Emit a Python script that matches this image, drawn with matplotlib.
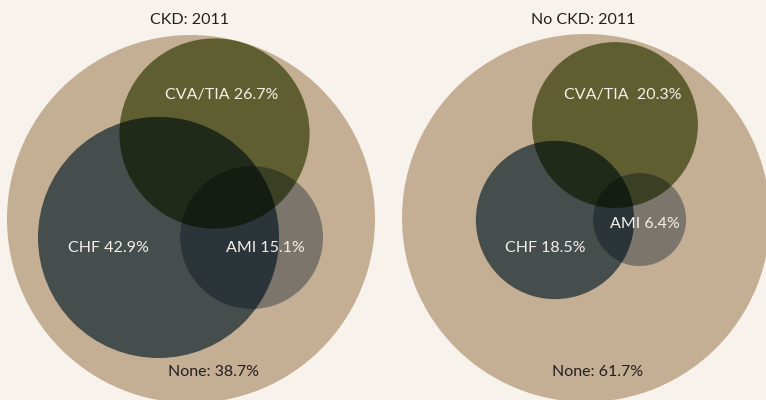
import numpy as np
import matplotlib.pyplot as plt
from matplotlib.patches import Circle, Polygon
from itertools import combinations

plt.rcParams['font.family'] = ['Lato', 'DejaVu Sans']

# data
panel_titles = ['CKD: 2011', 'No CKD: 2011']
categories = ['CVA/TIA', 'CHF', 'AMI']
ckd_pct = [26.7, 42.9, 15.1]
no_ckd_pct = [20.3, 18.5, 6.4]
none_pct = [38.7, 61.7]
total_pct = 100.0

# layout, in pixels of the 766x400 picture
outer_xy = [(191, 219), (586, 218)]
circle_xy = [[(214.5, 133.5), (158.5, 237.5), (251.5, 237.5)],
             [(615, 125), (555, 220), (639.5, 219.5)]]
label_xy = [[(222, 95), (108, 248), (265, 248)],
            [(623, 95), (545, 248), (645, 224)]]
label_sep = [' ', '  ']
title_xy = [(190, 20), (583, 20)]
none_xy = [(213, 372), (598, 372)]
px_per_sqrt = 18.4

# colours: each set circle darkens what lies below it (multiply)
bg = '#f7f3ec'
tan = np.array([197, 175, 148]) / 255
seen_on_tan = [np.array([95, 94, 48]) / 255,
               np.array([69, 78, 77]) / 255,
               np.array([123, 117, 107]) / 255]
factor = [c / tan for c in seen_on_tan]


def overlap(circles):
    t = np.linspace(0, 2 * np.pi, 1440, endpoint=False)
    pts = []
    for i, (c, r) in enumerate(circles):
        p = np.column_stack([c[0] + r * np.cos(t), c[1] + r * np.sin(t)])
        keep = np.ones(len(p), bool)
        for j, (c2, r2) in enumerate(circles):
            if j != i:
                keep &= np.hypot(p[:, 0] - c2[0], p[:, 1] - c2[1]) <= r2
        pts.append(p[keep])
    pts = np.vstack(pts)
    if len(pts) < 3:
        return None
    m = pts.mean(0)
    order = np.argsort(np.arctan2(pts[:, 1] - m[1], pts[:, 0] - m[0]))
    return pts[order]


fig = plt.figure(figsize=(7.66, 4.0), dpi=100, facecolor=bg)
ax = fig.add_axes([0, 0, 1, 1])
ax.set_facecolor(bg)
ax.set_xlim(0, 766)
ax.set_ylim(400, 0)
ax.set_aspect('equal')
ax.axis('off')

for k, pct in enumerate([ckd_pct, no_ckd_pct]):
    ax.add_patch(Circle(outer_xy[k], px_per_sqrt * np.sqrt(total_pct),
                        color=tan, lw=0))
    circles = [(circle_xy[k][i], px_per_sqrt * np.sqrt(pct[i])) for i in range(3)]
    for n in (1, 2, 3):
        for idx in combinations(range(3), n):
            col = tan.copy()
            for i in idx:
                col = col * factor[i]
            if n == 1:
                c, r = circles[idx[0]]
                ax.add_patch(Circle(c, r, color=col, lw=0))
            else:
                poly = overlap([circles[i] for i in idx])
                if poly is not None:
                    ax.add_patch(Polygon(poly, closed=True, color=col, lw=0))

    ax.text(*title_xy[k], panel_titles[k], ha='center', va='center',
            fontsize=11.5, color='#231f20')
    ax.text(*none_xy[k], f'None: {none_pct[k]}%', ha='center', va='center',
            fontsize=11.5, color='#231f20')
    for i, cat in enumerate(categories):
        sep = label_sep[k] if i == 0 else ' '
        ax.text(*label_xy[k][i], f'{cat}{sep}{pct[i]}%', ha='center', va='center',
                fontsize=11.5, color='#f4f0e8')

fig.savefig('out.png', dpi=100, facecolor=bg)
